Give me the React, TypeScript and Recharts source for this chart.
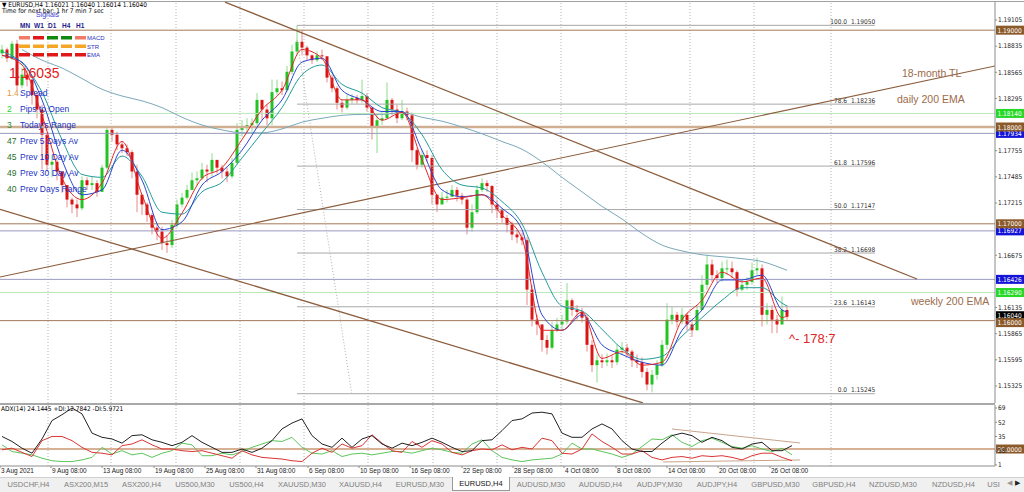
import React from 'react'
import { ComposedChart, Bar, Line, XAxis, YAxis, ReferenceLine } from 'recharts'

// EURUSD H4, each candle here is one ~12h block
const firstOpen = 1.1876
const candleClose = [
  1.1880, 1.1871, 1.1886, 1.1843, 1.1854, 1.1849, 1.1833, 1.1818, 1.1792, 1.1761,
  1.1764, 1.1754, 1.1740, 1.1725, 1.1720, 1.1716, 1.1745, 1.1740, 1.1742, 1.1733,
  1.1758, 1.1797, 1.1792, 1.1782, 1.1778, 1.1774, 1.1754, 1.1730, 1.1720, 1.1709,
  1.1696, 1.1692, 1.1680, 1.1678, 1.1699, 1.1720, 1.1727, 1.1735, 1.1745, 1.1747,
  1.1756, 1.1754, 1.1766, 1.1758, 1.1754, 1.1749, 1.1763, 1.1797, 1.1799, 1.1802,
  1.1804, 1.1828, 1.1818, 1.1809, 1.1836, 1.1840, 1.1838, 1.1857, 1.1878, 1.1888,
  1.1882, 1.1874, 1.1869, 1.1874, 1.1873, 1.1851, 1.1840, 1.1825, 1.1820, 1.1828,
  1.1830, 1.1828, 1.1832, 1.1820, 1.1799, 1.1807, 1.1809, 1.1828, 1.1818, 1.1809,
  1.1816, 1.1812, 1.1776, 1.1761, 1.1771, 1.1768, 1.1730, 1.1720, 1.1727, 1.1728,
  1.1735, 1.1729, 1.1725, 1.1696, 1.1712, 1.1735, 1.1742, 1.1739, 1.1720, 1.1714,
  1.1706, 1.1699, 1.1689, 1.1686, 1.1683, 1.1632, 1.1601, 1.1596, 1.1580, 1.1572,
  1.1590, 1.1596, 1.1599, 1.1621, 1.1611, 1.1609, 1.1603, 1.1575, 1.1554, 1.1559,
  1.1557, 1.1559, 1.1557, 1.1570, 1.1572, 1.1568, 1.1559, 1.1557, 1.1547, 1.1534,
  1.1544, 1.1554, 1.1575, 1.1601, 1.1606, 1.1599, 1.1606, 1.1596, 1.1590, 1.1611,
  1.1637, 1.1658, 1.1647, 1.1644, 1.1654, 1.1654, 1.1650, 1.1632, 1.1637, 1.1640,
  1.1652, 1.1654, 1.1606, 1.1611, 1.1601, 1.1596, 1.1611, 1.1604,
]
const candleHigh = [
  1.1885, 1.1882, 1.1889, 1.1890, 1.1861, 1.1859, 1.1849, 1.1836, 1.1823, 1.1792,
  1.1771, 1.1766, 1.1754, 1.1740, 1.1727, 1.1725, 1.1749, 1.1748, 1.1749, 1.1745,
  1.1761, 1.1801, 1.1799, 1.1795, 1.1785, 1.1782, 1.1776, 1.1761, 1.1730, 1.1722,
  1.1711, 1.1699, 1.1697, 1.1688, 1.1704, 1.1725, 1.1732, 1.1740, 1.1753, 1.1754,
  1.1763, 1.1761, 1.1773, 1.1766, 1.1761, 1.1758, 1.1768, 1.1804, 1.1807, 1.1809,
  1.1809, 1.1835, 1.1828, 1.1823, 1.1849, 1.1849, 1.1847, 1.1863, 1.1885, 1.1905,
  1.1900, 1.1884, 1.1875, 1.1878, 1.1880, 1.1873, 1.1854, 1.1842, 1.1828, 1.1833,
  1.1834, 1.1833, 1.1849, 1.1835, 1.1820, 1.1812, 1.1816, 1.1846, 1.1830, 1.1823,
  1.1828, 1.1820, 1.1815, 1.1778, 1.1776, 1.1776, 1.1771, 1.1730, 1.1733, 1.1735,
  1.1740, 1.1738, 1.1732, 1.1727, 1.1720, 1.1740, 1.1747, 1.1745, 1.1740, 1.1725,
  1.1716, 1.1709, 1.1702, 1.1694, 1.1691, 1.1686, 1.1637, 1.1606, 1.1596, 1.1585,
  1.1599, 1.1603, 1.1606, 1.1639, 1.1623, 1.1616, 1.1613, 1.1606, 1.1580, 1.1565,
  1.1565, 1.1566, 1.1564, 1.1575, 1.1578, 1.1576, 1.1570, 1.1565, 1.1562, 1.1551,
  1.1549, 1.1559, 1.1580, 1.1618, 1.1614, 1.1609, 1.1613, 1.1608, 1.1599, 1.1616,
  1.1647, 1.1668, 1.1663, 1.1652, 1.1661, 1.1663, 1.1661, 1.1652, 1.1642, 1.1645,
  1.1660, 1.1665, 1.1658, 1.1618, 1.1616, 1.1606, 1.1625, 1.1616,
]
const candleLow = [
  1.1871, 1.1867, 1.1869, 1.1838, 1.1840, 1.1842, 1.1823, 1.1809, 1.1756, 1.1754,
  1.1748, 1.1745, 1.1732, 1.1717, 1.1711, 1.1707, 1.1714, 1.1735, 1.1735, 1.1728,
  1.1733, 1.1756, 1.1785, 1.1776, 1.1773, 1.1770, 1.1747, 1.1712, 1.1709, 1.1702,
  1.1689, 1.1683, 1.1673, 1.1670, 1.1675, 1.1696, 1.1717, 1.1725, 1.1735, 1.1739,
  1.1745, 1.1743, 1.1749, 1.1752, 1.1747, 1.1743, 1.1747, 1.1761, 1.1790, 1.1794,
  1.1795, 1.1802, 1.1807, 1.1802, 1.1802, 1.1833, 1.1833, 1.1836, 1.1854, 1.1874,
  1.1874, 1.1869, 1.1865, 1.1867, 1.1869, 1.1846, 1.1836, 1.1818, 1.1815, 1.1818,
  1.1824, 1.1824, 1.1825, 1.1816, 1.1787, 1.1773, 1.1802, 1.1809, 1.1812, 1.1804,
  1.1807, 1.1807, 1.1764, 1.1756, 1.1758, 1.1764, 1.1720, 1.1712, 1.1720, 1.1722,
  1.1728, 1.1723, 1.1720, 1.1689, 1.1692, 1.1710, 1.1733, 1.1733, 1.1711, 1.1706,
  1.1701, 1.1691, 1.1683, 1.1680, 1.1678, 1.1616, 1.1594, 1.1585, 1.1568, 1.1565,
  1.1570, 1.1588, 1.1590, 1.1596, 1.1605, 1.1601, 1.1598, 1.1568, 1.1547, 1.1536,
  1.1551, 1.1553, 1.1551, 1.1554, 1.1565, 1.1563, 1.1552, 1.1551, 1.1541, 1.1528,
  1.1526, 1.1539, 1.1552, 1.1570, 1.1596, 1.1593, 1.1596, 1.1590, 1.1583, 1.1590,
  1.1611, 1.1632, 1.1640, 1.1639, 1.1640, 1.1647, 1.1644, 1.1625, 1.1630, 1.1632,
  1.1637, 1.1647, 1.1594, 1.1596, 1.1587, 1.1587, 1.1596, 1.1601,
]

// moving averages, read every 4th candle (and the last one)
const maSlots = [0, 4, 8, 12, 16, 20, 24, 28, 32, 36, 40, 44, 48, 52, 56, 60, 64, 68, 72, 76, 80,
  84, 88, 92, 96, 100, 104, 108, 112, 116, 120, 124, 128, 132, 136, 140, 144, 148, 152, 156, 157]
const emaFast = [1.1874, 1.1864, 1.1812, 1.1747, 1.1725, 1.1742, 1.1785, 1.1730, 1.1685, 1.1711,
  1.1747, 1.1758, 1.1787, 1.1818, 1.1838, 1.1880, 1.1871, 1.1828, 1.1828, 1.1807, 1.1815, 1.1766,
  1.1725, 1.1727, 1.1730, 1.1709, 1.1685, 1.1590, 1.1590, 1.1609, 1.1561, 1.1568, 1.1554, 1.1557,
  1.1601, 1.1621, 1.1650, 1.1640, 1.1644, 1.1603, 1.1605]
const emaMid = [1.1874, 1.1867, 1.1828, 1.1766, 1.1730, 1.1735, 1.1776, 1.1745, 1.1694, 1.1702,
  1.1740, 1.1754, 1.1776, 1.1807, 1.1828, 1.1867, 1.1871, 1.1838, 1.1828, 1.1816, 1.1816, 1.1776,
  1.1735, 1.1728, 1.1730, 1.1716, 1.1694, 1.1606, 1.1590, 1.1606, 1.1575, 1.1565, 1.1557, 1.1554,
  1.1590, 1.1611, 1.1642, 1.1642, 1.1647, 1.1611, 1.1609]
const emaSlow = [1.1878, 1.1866, 1.1836, 1.1787, 1.1751, 1.1748, 1.1770, 1.1749, 1.1712, 1.1710,
  1.1733, 1.1743, 1.1768, 1.1794, 1.1820, 1.1854, 1.1864, 1.1844, 1.1835, 1.1820, 1.1815, 1.1792,
  1.1756, 1.1740, 1.1737, 1.1723, 1.1700, 1.1650, 1.1615, 1.1610, 1.1591, 1.1571, 1.1560, 1.1563,
  1.1584, 1.1603, 1.1621, 1.1634, 1.1634, 1.1618, 1.1615]
// 200 EMA starts at slot 4
const ema200 = [1.1880, 1.1869, 1.1861, 1.1850, 1.1839, 1.1832, 1.1827, 1.1820, 1.1810, 1.1802,
  1.1797, 1.1794, 1.1794, 1.1798, 1.1805, 1.1809, 1.1812, 1.1813, 1.1813, 1.1815, 1.1810, 1.1806,
  1.1800, 1.1793, 1.1785, 1.1777, 1.1764, 1.1748, 1.1733, 1.1718, 1.1705, 1.1690, 1.1678, 1.1672,
  1.1668, 1.1666, 1.1664, 1.1661, 1.1654, 1.1652]

// ADX(14) panel, one reading every 2 candles
const adxLine = [35, 29, 21, 15, 32, 54, 61, 69, 62, 39, 34, 32, 27, 36, 37, 31, 28, 24, 28, 36,
  28, 22, 16, 16, 20, 16, 21, 30, 44, 51, 56, 36, 26, 22, 33, 22, 32, 36, 26, 21,
  27, 24, 28, 33, 28, 22, 17, 18, 30, 31, 42, 54, 56, 63, 64, 62, 39, 34, 34, 44,
  50, 44, 30, 20, 17, 17, 27, 36, 39, 36, 28, 34, 30, 22, 20, 26, 28, 18, 18, 24]
const plusDi = [25, 17, 15, 13, 9, 6, 5, 5, 7, 10, 22, 14, 18, 13, 15, 10, 15, 18, 27, 25,
  12, 12, 15, 13, 17, 22, 26, 30, 29, 34, 22, 15, 14, 18, 11, 14, 15, 13, 15, 17,
  17, 15, 18, 21, 19, 16, 15, 26, 31, 18, 10, 7, 5, 7, 8, 9, 14, 27, 20, 20,
  17, 14, 10, 14, 23, 32, 31, 37, 28, 23, 30, 33, 28, 23, 21, 24, 20, 17, 21, 13]
const minusDi = [19, 21, 16, 11, 30, 35, 35, 30, 22, 16, 15, 13, 24, 26, 31, 25, 20, 20, 18, 17,
  18, 15, 12, 9, 18, 13, 10, 9, 8, 6, 5, 15, 21, 16, 26, 21, 24, 37, 27, 18,
  16, 29, 22, 30, 26, 16, 13, 18, 20, 19, 25, 19, 22, 20, 33, 30, 15, 14, 20, 38,
  29, 22, 14, 14, 18, 10, 7, 10, 11, 9, 12, 11, 12, 10, 7, 12, 15, 15, 10, 6]

const priceTicks = [1.19105, 1.18835, 1.18565, 1.18295, 1.17755, 1.17485, 1.17215,
  1.16675, 1.16135, 1.15865, 1.15595, 1.15325]
const adxTicks = [69, 52, 35, 18, 1]

const dateLabels = ['3 Aug 2021', '9 Aug 08:00', '13 Aug 08:00', '19 Aug 08:00', '25 Aug 08:00',
  '31 Aug 08:00', '6 Sep 08:00', '10 Sep 08:00', '16 Sep 08:00', '22 Sep 08:00', '28 Sep 08:00',
  '4 Oct 08:00', '8 Oct 08:00', '14 Oct 08:00', '20 Oct 08:00', '26 Oct 08:00']
const dateSlots = [-0.4, 9.8, 20, 30.4, 40.6, 50.8, 61.2, 71.4, 81.6, 92, 102.2, 112.4, 122.8,
  133, 143.2, 153.6]
const gridSlots = [9.2, 21.8, 34.8, 47.6, 60.4, 73.2, 86.2, 99, 111.8, 124.8, 137.6, 150.4, 165.8]

const fibNames = ['100.0', '78.6', '61.8', '50.0', '38.2', '23.6', '0.0']
const fibPrices = [1.1905, 1.18236, 1.17596, 1.17147, 1.16698, 1.16143, 1.15245]
const fibFrom = 59
const fibTo = 174.6

const brownLevels = [1.19, 1.18, 1.17, 1.16]
const blueLevels = [1.17934, 1.16927, 1.16426]
const greenLevels = [1.1814, 1.1629]
const bidPrice = 1.1604

const trendDown = [[44.6, 1.1929], [183, 1.1643]]
const trendUp = [[-0.4, 1.1645], [198.6, 1.1863]]
const trendLow = [[-0.4, 1.1715], [128.2, 1.1515]]
const fibDiagonal = [[59, 1.189], [70, 1.1523]]
const adxTop = [[134, 43.9], [159.6, 27.2]]
const adxBottom = [[132.2, 4.5], [159.6, 6.9]]

const infoNums = ['1.4', '2', '3', '47', '45', '49', '40']
const infoColors = ['#e39a3a', '#2ccf2c', '#2f8f2f', '#1f6f1f', '#1f6f1f', '#1f6f1f', '#1f6f1f']
const infoTexts = ['Spread', 'Pips to Open', "Today's Range", 'Prev 5 Days Av', 'Prev 10 Day Av',
  'Prev 30 Day Av', 'Prev Days Range']

const signalFrames = ['MN', 'W1', 'D1', 'H4', 'H1']
const signalNames = ['MACD', 'STR', 'EMA']
const macdColors = ['#f07a66', '#e01818', '#0f8a0f', '#0f8a0f', '#f07a66']
const strColors = ['#f5a623', '#f5a623', '#f5a623', '#f5a623', '#f5a623']
const emaColors = ['#e01818', '#e01818', '#e01818', '#e01818', '#e01818']

const tabNames = ['USDCHF,H4', 'ASX200,M15', 'ASX200,H4', 'US500,M30', 'US500,H4', 'XAUUSD,M30',
  'XAUUSD,H4', 'EURUSD,M30', 'EURUSD,H4', 'AUDUSD,M30', 'AUDUSD,H4', 'AUDJPY,M30', 'AUDJPY,H4',
  'GBPUSD,M30', 'GBPUSD,H4', 'NZDUSD,M30', 'NZDUSD,H4', 'USI']
const tabEdges = [0, 57, 115, 168, 222, 271, 333, 388, 452, 510, 572, 629, 690, 744, 807, 861, 925, 982, 1005]

const uiFont = "'Liberation Sans', Arial, sans-serif"
const smallFont = "'Liberation Sans Narrow', 'DejaVu Sans Condensed', 'Liberation Sans', Arial, sans-serif"
const BROWN = '#a57a5a'
const TREND = '#8c5e3e'
const BLUE_LINE = '#9a9abf'
const GREEN_LINE = '#b9e8b9'
const FIB = '#a8a8a8'
const GRID = '#b4b4b4'

const X_DOMAIN = [-0.4, 198.6]

const Candle = (props: any) => {
  const { x, y, width, height, payload } = props
  if (!payload) return null
  const [lo, hi] = payload.range
  const top = Math.min(y, y + height)
  const h = Math.abs(height)
  const k = hi > lo ? h / (hi - lo) : 0
  const yo = top + (hi - payload.open) * k
  const yc = top + (hi - payload.close) * k
  const up = payload.close >= payload.open
  const cx = x + width / 2
  return (
    <g>
      <line x1={cx} x2={cx} y1={Math.min(top, yo, yc)} y2={Math.max(top + h, yo, yc)}
        stroke={up ? '#8fdc8f' : '#e98a8a'} strokeWidth={1} />
      <rect x={x} y={Math.min(yo, yc)} width={width} height={Math.max(1, Math.abs(yc - yo))}
        fill={up ? '#22c322' : '#d91515'} />
    </g>
  )
}

// coloured price tag sitting on the right axis
const PriceTag = (props: any) => {
  const vb = props.viewBox || {}
  const right = (vb.x ?? 0) + (vb.width ?? 0)
  const y = (vb.y ?? 0) + (props.dy ?? 0)
  return (
    <g>
      <rect x={right + 1} y={y - 4.5} width={28} height={9} fill={props.bg} />
      <text x={right + 2.5} y={y + 2.6} fontSize={6.5} fill="#fff" fontFamily={smallFont}>
        {props.text}
      </text>
    </g>
  )
}

const FibText = (props: any) => {
  const vb = props.viewBox || {}
  const right = (vb.x ?? 0) + (vb.width ?? 0)
  const y = vb.y ?? 0
  return (
    <g fontSize={6.5} fill="#333" fontFamily={smallFont}>
      <text x={right - 28} y={y - 1.5} textAnchor="end">{props.name}</text>
      <text x={right - 24} y={y - 1.5}>{props.price}</text>
    </g>
  )
}

const DateTick = (props: any) => {
  const { x, y, index } = props
  return (
    <text x={x + 1} y={y + 5} fontSize={6.5} fill="#222" fontFamily={uiFont}>
      {dateLabels[index]}
    </text>
  )
}

const seg = (p: number[][]) => [{ x: p[0][0], y: p[0][1] }, { x: p[1][0], y: p[1][1] }]

export default function App() {
  const candles: any[] = candleClose.map((c, i) => ({
    slot: i,
    open: i === 0 ? firstOpen : candleClose[i - 1],
    close: c,
    range: [candleLow[i], candleHigh[i]],
  }))
  maSlots.forEach((s, k) => {
    const row = candles[s]
    row.fast = emaFast[k]
    row.mid = emaMid[k]
    row.slow = emaSlow[k]
    if (k > 0) row.ema200 = ema200[k - 1]
  })
  const adxRows = adxLine.map((v, k) => ({ slot: k * 2, adx: v, pdi: plusDi[k], mdi: minusDi[k] }))

  const priceTick = { fontSize: 6.5, fill: '#222', fontFamily: smallFont }

  return (
    <div style={{ position: 'relative', width: 1024, height: 492, background: '#fff', overflow: 'hidden', fontFamily: uiFont }}>
      <style>{'body{margin:0}'}</style>

      <div style={{ position: 'absolute', left: 0, top: 0 }}>
        <ComposedChart width={1024} height={405} data={candles} margin={{ top: 2, right: 0, bottom: 2, left: 0 }}>
          <XAxis dataKey="slot" type="number" domain={X_DOMAIN} hide allowDataOverflow />
          <YAxis orientation="right" width={29} domain={[1.15149, 1.19291]} allowDataOverflow
            ticks={priceTicks} interval={0} tickFormatter={(v: number) => v.toFixed(5)}
            tick={priceTick} tickSize={2} tickMargin={1}
            axisLine={{ stroke: '#8c8c8c' }} tickLine={{ stroke: '#8c8c8c' }} />
          {gridSlots.map((s) => (
            <ReferenceLine key={'g' + s} x={s} stroke={GRID} strokeDasharray="1 2" />
          ))}
          {greenLevels.map((p) => (
            <ReferenceLine key={'gl' + p} y={p} stroke={GREEN_LINE}
              label={<PriceTag text={p.toFixed(5)} bg="#27d827" />} />
          ))}
          {blueLevels.map((p) => (
            <ReferenceLine key={'bl' + p} y={p} stroke={BLUE_LINE}
              label={<PriceTag text={p.toFixed(5)} bg="#1414d8" />} />
          ))}
          <ReferenceLine y={bidPrice} stroke="none" label={<PriceTag text={bidPrice.toFixed(5)} bg="#000" dy={-1} />} />
          {brownLevels.map((p) => (
            <ReferenceLine key={'br' + p} y={p} stroke={p === 1.18 ? '#cfae92' : BROWN}
              strokeWidth={p === 1.18 ? 2.5 : 1}
              label={<PriceTag text={p.toFixed(5)} bg="#8b5a2b" dy={p === 1.16 ? 2 : 0} />} />
          ))}
          {fibPrices.map((p, i) => (
            <ReferenceLine key={'f' + p} segment={[{ x: fibFrom, y: p }, { x: fibTo, y: p }]} stroke={FIB}
              label={<FibText name={fibNames[i]} price={p.toFixed(5)} />} />
          ))}
          <ReferenceLine segment={seg(fibDiagonal)} stroke="#b0b0b0" strokeDasharray="1 2" ifOverflow="hidden" />
          <ReferenceLine segment={seg(trendDown)} stroke={TREND} strokeWidth={1.3} ifOverflow="hidden" />
          <ReferenceLine segment={seg(trendUp)} stroke={TREND} strokeWidth={1.1} ifOverflow="hidden" />
          <ReferenceLine segment={seg(trendLow)} stroke={TREND} strokeWidth={1.3} ifOverflow="hidden" />

          <Bar dataKey="range" barSize={3} shape={<Candle />} isAnimationActive={false} />
          <Line dataKey="ema200" type="monotone" stroke="#7aa9ba" strokeWidth={1} dot={false} connectNulls isAnimationActive={false} />
          <Line dataKey="slow" type="monotone" stroke="#239b9b" strokeWidth={1} dot={false} connectNulls isAnimationActive={false} />
          <Line dataKey="mid" type="monotone" stroke="#2b45cf" strokeWidth={1} dot={false} connectNulls isAnimationActive={false} />
          <Line dataKey="fast" type="monotone" stroke="#e32626" strokeWidth={1} dot={false} connectNulls isAnimationActive={false} />
        </ComposedChart>
      </div>

      <div style={{ position: 'absolute', left: 0, top: 405 }}>
        <ComposedChart width={1024} height={72} data={adxRows} margin={{ top: 0, right: 0, bottom: 0, left: 0 }}>
          <XAxis dataKey="slot" type="number" domain={X_DOMAIN} allowDataOverflow ticks={dateSlots}
            interval={0} tick={<DateTick />} height={11} tickSize={2} tickMargin={0}
            axisLine={{ stroke: '#8c8c8c' }} tickLine={{ stroke: '#8c8c8c' }} />
          <YAxis orientation="right" width={29} domain={[-0.3, 72.6]} allowDataOverflow ticks={adxTicks}
            interval={0} tick={priceTick} tickSize={2} tickMargin={1}
            axisLine={{ stroke: '#8c8c8c' }} tickLine={{ stroke: '#8c8c8c' }} />
          {gridSlots.map((s) => (
            <ReferenceLine key={'ag' + s} x={s} stroke={GRID} strokeDasharray="1 2" />
          ))}
          <ReferenceLine y={20} stroke="#b0622e" strokeWidth={1.2}
            label={<PriceTag text="20.0000" bg="#8b5a2b" />} />
          <ReferenceLine segment={seg(adxTop)} stroke="#c9a488" ifOverflow="hidden" />
          <ReferenceLine segment={seg(adxBottom)} stroke="#c9a488" ifOverflow="hidden" />
          <Line dataKey="pdi" type="linear" stroke="#5cc65c" strokeWidth={1} dot={false} isAnimationActive={false} />
          <Line dataKey="mdi" type="linear" stroke="#dc3434" strokeWidth={1} dot={false} isAnimationActive={false} />
          <Line dataKey="adx" type="linear" stroke="#222" strokeWidth={1} dot={false} isAnimationActive={false} />
        </ComposedChart>
      </div>

      <svg width={1024} height={492} style={{ position: 'absolute', left: 0, top: 0, pointerEvents: 'none' }}>
        <line x1={0} x2={1024} y1={1.5} y2={1.5} stroke="#a0a0a0" />
        <rect x={0} y={403} width={995} height={2} fill="#a8a8a8" />

        <g fontFamily={smallFont} fontSize={6.5} fill="#000">
          <text x={2} y={7}>▼ EURUSD,H4  1.16021 1.16040 1.16014 1.16040</text>
          <text x={2} y={12.5}>Time for next bar: 1 hr 7 min 7 sec</text>
          <text x={1} y={411}>ADX(14) 24.1445 +DI:12.7842 -DI:5.9721</text>
        </g>

        <text x={36} y={17} fontSize={7} fill="#3a3ad0" fontFamily={uiFont}>Signals</text>
        {signalFrames.map((f, i) => (
          <text key={f} x={20 + i * 14} y={28} fontSize={6.5} fontWeight="bold" fill="#1c1c8c" fontFamily={uiFont}>{f}</text>
        ))}
        {[macdColors, strColors, emaColors].map((row, r) =>
          row.map((c, i) => (
            <rect key={r + '-' + i} x={19 + i * 14} y={36 + r * 8.5} width={11} height={3.5} fill={c} />
          ))
        )}
        {signalNames.map((n, r) => (
          <text key={n} x={87} y={40 + r * 8.5} fontSize={6} fill="#3030c0" fontFamily={uiFont}>{n}</text>
        ))}

        <text x={9} y={78} fontSize={14} fill="#e02020" fontFamily={uiFont}>1.16035</text>
        {infoTexts.map((t, i) => (
          <g key={t} fontFamily={uiFont} fontSize={8.5}>
            <text x={7} y={96 + i * 16} fill={infoColors[i]}>{infoNums[i]}</text>
            <text x={20} y={96 + i * 16} fill="#2233c4">{t}</text>
          </g>
        ))}

        <g fontFamily={uiFont} fontSize={10.5} fill="#9c6b4a">
          <text x={902} y={77}>18-month TL</text>
          <text x={897} y={103}>daily 200 EMA</text>
          <text x={911} y={305}>weekly 200 EMA</text>
        </g>
        <text x={789} y={343} fontSize={13} fill="#e02424" fontFamily={uiFont}>^- 178:7</text>
      </svg>

      <div style={{ position: 'absolute', left: 0, top: 477, width: 1024, height: 15, background: '#f0f0f0', borderTop: '1px solid #d0d0d0', boxSizing: 'border-box' }}>
        {tabNames.map((t, i) => {
          const active = t === 'EURUSD,H4'
          return (
            <div key={t} style={{
              position: 'absolute', left: tabEdges[i], top: active ? -1 : 0,
              width: tabEdges[i + 1] - tabEdges[i], height: 14, boxSizing: 'border-box',
              borderRight: '1px solid #cfcfcf', background: active ? '#fff' : 'transparent',
              border: active ? '1px solid #999' : undefined, borderTop: active ? 'none' : undefined,
              fontSize: 7.5, lineHeight: '13px', textAlign: 'center', overflow: 'hidden',
              color: active ? '#111' : '#808080', whiteSpace: 'nowrap',
            }}>{t}</div>
          )
        })}
        <div style={{ position: 'absolute', left: 1007, top: 1, fontSize: 7, color: '#999' }}>◀</div>
        <div style={{ position: 'absolute', left: 1015, top: 1, fontSize: 7, color: '#222' }}>▶</div>
      </div>
    </div>
  )
}
